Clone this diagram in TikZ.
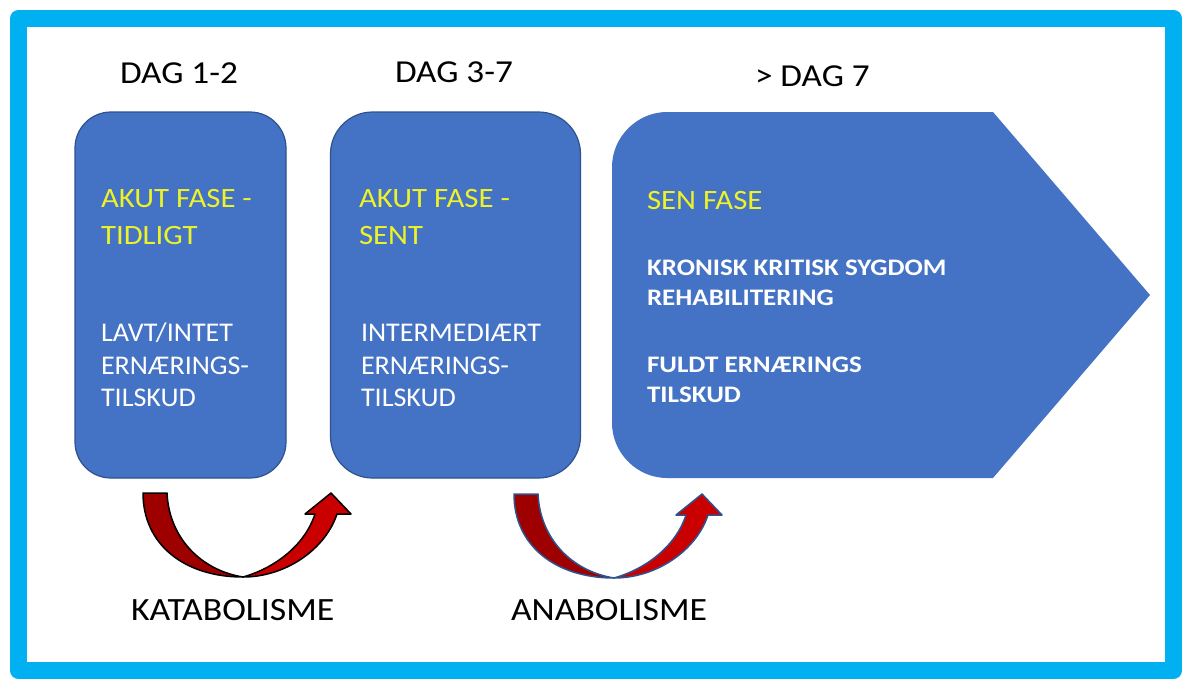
\documentclass[tikz,border=0pt]{standalone}
\usepackage{fontspec}
\setmainfont{Carlito}
\newfontfamily\widef{Carlito}[FakeStretch=1.1]
\newfontfamily\midf{Carlito}[FakeStretch=1.04]
\newfontfamily\boldf{Carlito}[FakeStretch=1.14]
\definecolor{frameblue}{RGB}{0,176,240}
\definecolor{boxblue}{RGB}{68,114,196}
\definecolor{boxedge}{RGB}{47,82,143}
\definecolor{titleyellow}{RGB}{238,242,40}
\definecolor{backred}{RGB}{158,0,0}
\definecolor{frontred}{RGB}{202,0,0}
\newcommand{\mycurvedarrow}[1]{%
  \filldraw[fill=backred, draw=#1, line width=1.5pt, line join=round]
    (143,493) -- (167,493) .. controls (169,537) and (200,570) .. (243,577)
    .. controls (185,577) and (143,545) .. (143,493) -- cycle;
  \filldraw[fill=frontred, draw=#1, line width=1.5pt, line join=round]
    (243,577) .. controls (285,577) and (325,550) .. (337,514)
    -- (351,514) -- (331,493) -- (305,514) -- (315,514)
    .. controls (305,545) and (275,568) .. (243,577) -- cycle;
}
\tikzset{
  phasebox/.style={draw=boxedge, fill=boxblue, line width=1.2pt, inner sep=0pt},
  txt/.style={anchor=base west, inner sep=0pt, outer sep=0pt},
  head/.style={txt, font=\widef\fontsize{32}{38}\selectfont},
  ytitle/.style={txt, text=titleyellow, font=\widef\fontsize{28}{34}\selectfont},
  wtext/.style={txt, text=white, font=\midf\fontsize{27}{32}\selectfont},
  wbold/.style={txt, text=white, font=\boldf\bfseries\fontsize{23.7}{30}\selectfont},
  lab/.style={txt, font=\widef\fontsize{32.5}{38}\selectfont}
}
\begin{document}
\begin{tikzpicture}[x=1pt,y=-1pt]
\useasboundingbox (0,0) rectangle (1196,694);
\fill[white] (0,0) rectangle (1196,694);
% frame
\draw[frameblue, line width=17pt, line join=round] (18.5,18.5) rectangle (1173.5,670.5);

% boxes
\node[phasebox, rounded corners=36pt, minimum width=211pt, minimum height=366pt] (b1) at (180.5,295) {};
\node[phasebox, rounded corners=42pt, minimum width=250pt, minimum height=366pt] (b2) at (455.5,295) {};
\fill[boxblue] (612,167) .. controls (612,137) and (637,112) .. (667,112)
  -- (993,112) -- (1150,295) -- (993,478) -- (667,478)
  .. controls (637,478) and (612,453) .. (612,423) -- cycle;

% headings
\node[head] (h1) at (120,83) {DAG 1-2};
\node[head] (h2) at (395,82) {DAG 3-7};
\node[head] (h3) at (755,86) {> DAG 7};

% box 1 text
\node[ytitle] (t1a) at (101,207) {AKUT FASE -};
\node[ytitle] (t1b) at (101,244) {TIDLIGT};
\node[wtext] (w1a) at (101,341) {LAVT/INTET};
\node[wtext] (w1b) at (101,374) {ERNÆRINGS-};
\node[wtext] (w1c) at (101,406) {TILSKUD};

% box 2 text
\node[ytitle] (t2a) at (359,207) {AKUT FASE -};
\node[ytitle] (t2b) at (359,244) {SENT};
\node[wtext] (w2a) at (361,341) {INTERMEDIÆRT};
\node[wtext] (w2b) at (361,374) {ERNÆRINGS-};
\node[wtext] (w2c) at (361,406) {TILSKUD};

% pentagon text
\node[ytitle] (t3a) at (647,209) {SEN FASE};
\node[wbold] (w3a) at (647,275) {KRONISK KRITISK SYGDOM};
\node[wbold] (w3b) at (647,305) {REHABILITERING};
\node[wbold] (w3c) at (647,372) {FULDT ERNÆRINGS};
\node[wbold] (w3d) at (647,402) {TILSKUD};

% curved arrows
\begin{scope}
\mycurvedarrow{black}
\end{scope}
\begin{scope}[shift={(371,1)}]
\mycurvedarrow{boxedge}
\end{scope}

% labels
\node[lab] (l1) at (131,620) {KATABOLISME};
\node[lab] (l2) at (511,620) {ANABOLISME};
\end{tikzpicture}
\end{document}
